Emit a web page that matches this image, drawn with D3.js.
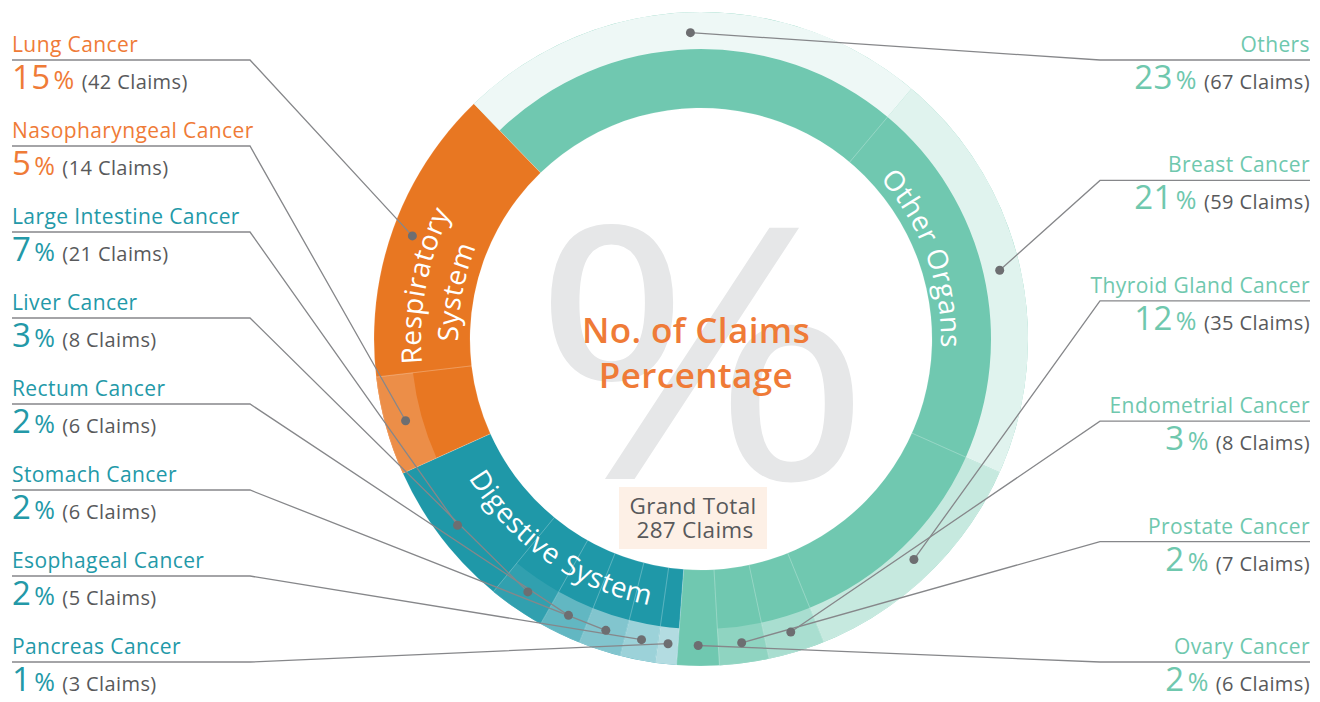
<!DOCTYPE html>
<html>
<head>
<meta charset="utf-8">
<script src="https://cdn.jsdelivr.net/npm/d3@7"></script>
<style>
  body { margin: 0; background: #fff; }
  svg { display: block; font-family: "Open Sans", "Noto Sans", sans-serif; }
</style>
</head>
<body>
<svg id="chart" width="1320" height="702"></svg>
<script>
// clockwise from the top-left edge of the ring
var cancerTypes = ["Others", "Breast Cancer", "Thyroid Gland Cancer", "Endometrial Cancer",
  "Prostate Cancer", "Ovary Cancer", "Pancreas Cancer", "Esophageal Cancer", "Stomach Cancer",
  "Rectum Cancer", "Liver Cancer", "Large Intestine Cancer", "Nasopharyngeal Cancer", "Lung Cancer"];
var claimCounts = [67, 59, 35, 8, 7, 6, 3, 5, 6, 6, 8, 21, 14, 42];
var bodySystem = ["Other Organs", "Other Organs", "Other Organs", "Other Organs", "Other Organs", "Other Organs",
  "Digestive System", "Digestive System", "Digestive System", "Digestive System", "Digestive System", "Digestive System",
  "Respiratory System", "Respiratory System"];
var systemNames = ["Other Organs", "Digestive System", "Respiratory System"];

var leftLabels = ["Lung Cancer", "Nasopharyngeal Cancer", "Large Intestine Cancer", "Liver Cancer",
  "Rectum Cancer", "Stomach Cancer", "Esophageal Cancer", "Pancreas Cancer"];
var rightLabels = ["Others", "Breast Cancer", "Thyroid Gland Cancer", "Endometrial Cancer",
  "Prostate Cancer", "Ovary Cancer"];

// styling
var systemColor = {"Other Organs": "#70c8b0", "Digestive System": "#1f98a8", "Respiratory System": "#e87722"};
var textColor = {"Other Organs": "#6fc8ae", "Digestive System": "#2399a8", "Respiratory System": "#ef7b37"};
var outerTint = [0.88, 0.78, 0.6, 0.4, 0.22, 0, 0.66, 0.56, 0.44, 0.3, 0.08, 0, 0.17, 0];

var cx = 701, cy = 339;
var rIn = 231, rMid = 290, rOut = 327;
var startA = -44 * Math.PI / 180;

var items = cancerTypes.map(function(name, i) {
  return {name: name, claims: claimCounts[i], system: bodySystem[i], tint: outerTint[i]};
});
var total = d3.sum(claimCounts);
var groups = systemNames.map(function(s) {
  return {name: s, claims: d3.sum(items.filter(function(d) { return d.system === s; }), function(d) { return d.claims; })};
});

var pie = d3.pie().sort(null).value(function(d) { return d.claims; })
    .startAngle(startA).endAngle(startA + 2 * Math.PI);
var itemArcs = pie(items);
var groupArcs = pie(groups);
var byName = {};
itemArcs.forEach(function(a) { byName[a.data.name] = a; });

var svg = d3.select("#chart");
var g = svg.append("g").attr("transform", "translate(" + cx + "," + cy + ")");

// big % in the hole
g.append("text")
    .attr("text-anchor", "middle")
    .attr("transform", "translate(1,140) scale(1.18,1)")
    .attr("fill", "#e6e7e8")
    .style("font-size", "352px")
    .text("%");

var fullArc = d3.arc().innerRadius(rIn).outerRadius(rOut);
var outerArc = d3.arc().innerRadius(rMid).outerRadius(rOut);

g.selectAll("path.group").data(groupArcs).join("path")
    .attr("class", "group")
    .attr("d", fullArc)
    .attr("fill", function(d) { return systemColor[d.data.name]; });

g.selectAll("path.outer").data(itemArcs.filter(function(d) { return d.data.tint > 0; })).join("path")
    .attr("class", "outer")
    .attr("d", outerArc)
    .attr("fill", function(d) { return d3.interpolateRgb(systemColor[d.data.system], "#ffffff")(d.data.tint); });

// faint slice borders
g.selectAll("path.sep").data(itemArcs).join("path")
    .attr("class", "sep")
    .attr("d", fullArc)
    .attr("fill", "none")
    .attr("stroke", "#fff")
    .attr("stroke-opacity", 0.18)
    .attr("stroke-width", 0.8);

// group names along the ring
function arcPath(r, a0, a1) {
  var sweep = a1 > a0 ? 1 : 0;
  return "M" + (r * Math.sin(a0)) + "," + (-r * Math.cos(a0)) +
    "A" + r + "," + r + " 0 0 " + sweep + " " + (r * Math.sin(a1)) + "," + (-r * Math.cos(a1));
}
var defs = svg.append("defs");
var groupText = [];
groupArcs.forEach(function(d, i) {
  var mid = (d.startAngle + d.endAngle) / 2;
  var bottom = Math.cos(mid) < -0.5;
  var lines = d.data.name === "Respiratory System" ? ["Respiratory", "System"] : [d.data.name];
  lines.forEach(function(line, j) {
    var r;
    if (bottom) r = 271;
    else if (lines.length > 1) r = j === 0 ? 280 : 243;
    else r = 240;
    var a0 = bottom ? mid + 0.9 : mid - 0.9, a1 = bottom ? mid - 0.9 : mid + 0.9;
    var id = "gp" + i + "_" + j;
    defs.append("path").attr("id", id).attr("d", arcPath(r, a0, a1));
    groupText.push({id: id, text: line});
  });
});
g.selectAll("text.gname").data(groupText).join("text")
    .attr("class", "gname")
    .attr("fill", "#fff")
    .style("font-size", "28px")
    .style("letter-spacing", "0.5px")
  .append("textPath")
    .attr("href", function(d) { return "#" + d.id; })
    .attr("startOffset", "50%")
    .attr("text-anchor", "middle")
    .text(function(d) { return d.text; });

// center title
var title = g.append("text").attr("text-anchor", "middle").attr("fill", "#ef7b37")
    .style("font-size", "35px").style("font-weight", "600").style("letter-spacing", "0.4px");
title.append("tspan").attr("x", -5).attr("y", 4).text("No. of Claims");
title.append("tspan").attr("x", -5).attr("y", 49).text("Percentage");

g.append("rect").attr("x", -82).attr("y", 148).attr("width", 148).attr("height", 62).attr("fill", "#fdf0e6");
var gt = g.append("text").attr("text-anchor", "middle").attr("fill", "#58595b")
    .style("font-size", "22.5px").style("letter-spacing", "0.3px");
gt.append("tspan").attr("x", -8).attr("y", 175).text("Grand Total");
gt.append("tspan").attr("x", -6).attr("y", 199).text(total + " Claims");

// labels and leaders
var midR = (rMid + rOut) / 2 - 2;
function anchor(name) {
  var a = byName[name];
  var m = (a.startAngle + a.endAngle) / 2;
  return [cx + midR * Math.sin(m), cy - midR * Math.cos(m)];
}

var leftY = d3.scalePoint().domain(leftLabels).range([60, 662]);
var rightY = d3.scalePoint().domain(rightLabels).range([60, 662]);
var leftX = 12, leftElbow = 250, rightX = 1310, rightElbow = 1100;

var leaders = leftLabels.map(function(n) {
  var y = leftY(n);
  return [[leftX, y], [leftElbow, y], anchor(n)];
}).concat(rightLabels.map(function(n) {
  var y = rightY(n), p = anchor(n);
  return [[rightX, y], [rightElbow, y], p];
}));

svg.append("g").selectAll("path").data(leaders).join("path")
    .attr("d", d3.line())
    .attr("fill", "none")
    .attr("stroke", "#86878a")
    .attr("stroke-width", 1.3);

svg.append("g").selectAll("circle").data(leaders).join("circle")
    .attr("cx", function(d) { return d[2][0]; })
    .attr("cy", function(d) { return d[2][1]; })
    .attr("r", 4.5)
    .attr("fill", "#6d6e71");

function drawLabel(name, x, y, anchorSide) {
  var d = byName[name].data;
  var col = textColor[d.system];
  var lab = svg.append("g").style("letter-spacing", "0.4px");
  lab.append("text").attr("x", x).attr("y", y - 8).attr("text-anchor", anchorSide)
      .attr("fill", col).style("font-size", "21px").text(name);
  var t = lab.append("text").attr("x", x).attr("y", y + 29).attr("text-anchor", anchorSide);
  t.append("tspan").attr("fill", col).style("font-size", "33px")
      .text(Math.round(d.claims / total * 100));
  t.append("tspan").attr("fill", col).attr("dx", 3).style("font-size", "25px").text("%");
  t.append("tspan").attr("fill", "#58595b").attr("dx", 7).style("font-size", "20px").text("(" + d.claims + " Claims)");
}
leftLabels.forEach(function(n) { drawLabel(n, leftX, leftY(n), "start"); });
rightLabels.forEach(function(n) { drawLabel(n, rightX, rightY(n), "end"); });
</script>
</body>
</html>
